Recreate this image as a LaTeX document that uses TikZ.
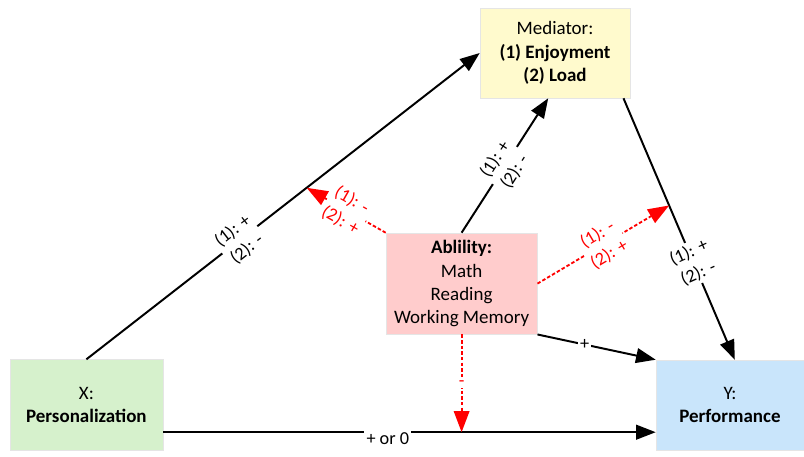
\documentclass[tikz,border=0pt]{standalone}
\usepackage{fontspec}
\setmainfont{Carlito}
\usetikzlibrary{arrows.meta,positioning,calc}
\definecolor{MedFill}{HTML}{FFFACD}
\definecolor{AblFill}{HTML}{FFCCCC}
\definecolor{XFill}{HTML}{D6F1CC}
\definecolor{YFill}{HTML}{C9E5FB}
\definecolor{ModRed}{HTML}{FF0000}

\begin{document}
\begin{tikzpicture}[
  box/.style={draw=black!10,align=center,inner sep=2pt,font=\fontsize{13.5}{16.5}\selectfont},
  path/.style={line width=1.4pt,-{Triangle[length=14pt,width=10.5pt]}},
  mod/.style={line width=1.3pt,ModRed,dash pattern=on 2.5pt off 1.5pt,-{Triangle[length=15pt,width=11pt]}},
  lbl/.style={fill=white,inner sep=1.5pt,align=center,font=\fontsize{13}{16.5}\selectfont},
  redlbl/.style={lbl,text=ModRed}
]
  \path[use as bounding box] (0,0) rectangle (20.1,11.4);

  % variables
  \node[box,fill=MedFill,minimum width=3.75cm,minimum height=2.25cm] (med) at (13.875,10.075)
    {Mediator:\\\textbf{(1) Enjoyment}\\\textbf{(2) Load}};
  \node[box,fill=AblFill,minimum width=3.78cm,minimum height=2.53cm] (abl) at (11.54,4.31)
    {\textbf{Ablility:}\\Math\\Reading\\Working Memory};
  \node[box,fill=XFill,minimum width=3.83cm,minimum height=2.27cm] (x) at (2.16,1.275)
    {X:\\\textbf{Personalization}};
  \node[box,fill=YFill,minimum width=3.7cm,minimum height=2.25cm] (y) at (18.25,1.275)
    {Y:\\\textbf{Performance}};

  % main paths
  \draw[path] (x.north) -- (med.west)
    coordinate[pos=0.56] (xm)
    node[lbl,sloped,pos=0.39] {(1): +\\(2): -};
  \draw[path] ([xshift=-0.17cm]med.south east) -- ([xshift=0.12cm]y.north)
    coordinate[pos=0.41] (my)
    node[lbl,rotate=24,pos=0.63] {(1): +\\(2): -};
  \draw[path] ([yshift=-0.68cm]x.east) coordinate (xs) -- ([yshift=-0.68cm]y.west)
    node[lbl,pos=0.456,yshift=-0.15cm] {+ or 0};
  \draw[path] (abl.north) -- ([xshift=-0.17cm]med.south)
    node[lbl,sloped,pos=0.5] {(1): +\\(2): -};
  \draw[path] (abl.south east) -- (y.north west)
    node[lbl,pos=0.4] {+};

  % moderation by ability
  \draw[mod] (abl.north west) -- (xm)
    node[redlbl,sloped,pos=0.5] {(1): -\\(2): +};
  \draw[mod] (abl.east) -- (my)
    node[redlbl,sloped,pos=0.5] {(1): -\\(2): +};
  \draw[mod] (abl.south) -- (abl.south |- xs)
    node[redlbl,pos=0.5] {-};
\end{tikzpicture}
\end{document}
